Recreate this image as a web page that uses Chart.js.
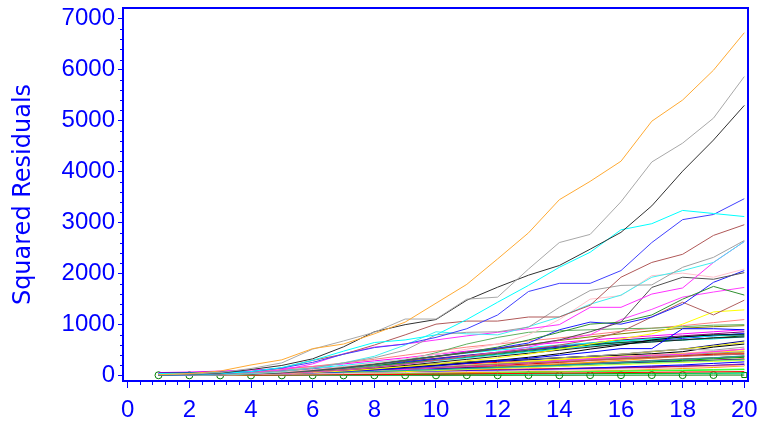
<!DOCTYPE html>
<html>
<head>
<meta charset="utf-8">
<script src="https://cdn.jsdelivr.net/npm/chart.js@4.4.1/dist/chart.umd.min.js"></script>
<style>
  html, body { margin: 0; padding: 0; background: #ffffff; }
  #wrap { width: 759px; height: 424px; }
</style>
</head>
<body>
<div id="wrap"><canvas id="c" width="759" height="424"></canvas></div>
<script>
// Time index shared by every subject
const steps = [1, 2, 3, 4, 5, 6, 7, 8, 9, 10, 11, 12, 13, 14, 15, 16, 17, 18, 19, 20];

// Axis tick labels
const xTickValues = [0, 2, 4, 6, 8, 10, 12, 14, 16, 18, 20];
const yTickValues = [0, 1000, 2000, 3000, 4000, 5000, 6000, 7000];

// Cumulative squared residuals, one array per subject
const subjOrange   = [20, 40, 90, 210, 310, 530, 620, 820, 1050, 1420, 1790, 2290, 2800, 3450, 3810, 4205, 4990, 5405, 5990, 6725];
const subjGray     = [15, 30, 60, 140, 250, 520, 680, 850, 1110, 1110, 1500, 1540, 2090, 2610, 2770, 3410, 4190, 4560, 5050, 5865];
const subjBlack    = [10, 25, 50, 120, 200, 330, 565, 860, 1000, 1100, 1480, 1735, 1970, 2160, 2480, 2810, 3330, 4010, 4620, 5300];
const subjCyan     = [10, 20, 40, 80, 160, 300, 480, 650, 700, 800, 1100, 1440, 1770, 2125, 2420, 2860, 2980, 3240, 3180, 3120];
const subjBlue     = [5, 15, 40, 80, 150, 260, 420, 550, 620, 750, 920, 1190, 1650, 1810, 1810, 2060, 2610, 3060, 3160, 3470];
const subjBrown    = [5, 15, 30, 80, 150, 300, 420, 600, 800, 1010, 1070, 1070, 1150, 1150, 1380, 1930, 2220, 2380, 2750, 2960];
const subjGray2    = [5, 10, 20, 50, 90, 150, 250, 350, 500, 800, 850, 860, 950, 1340, 1670, 1770, 1780, 2125, 2320, 2650];
const subjCyan2    = [5, 10, 20, 40, 80, 150, 250, 380, 600, 860, 820, 800, 960, 1150, 1400, 1580, 1930, 2060, 2220, 2630];
const subjMagenta  = [10, 20, 35, 60, 110, 230, 430, 560, 620, 700, 780, 850, 920, 1000, 1340, 1340, 1600, 1720, 2220, 2630];
const subjPink     = [5, 10, 20, 40, 70, 120, 180, 250, 330, 420, 520, 620, 800, 1100, 1500, 1570, 1960, 2010, 1930, 2090];
const subjDkGray   = [5, 10, 20, 40, 60, 100, 150, 220, 300, 380, 450, 520, 600, 700, 860, 1050, 1730, 1930, 1890, 2020];
const subjGreen    = [3, 8, 15, 30, 60, 100, 160, 230, 300, 380, 460, 560, 700, 850, 1010, 1050, 1190, 1500, 1750, 1580];
const subjBlue2    = [5, 10, 20, 35, 60, 100, 150, 220, 300, 380, 460, 540, 640, 900, 1050, 1010, 1150, 1400, 1830, 2060];
const subjBrown2   = [5, 10, 20, 30, 50, 80, 120, 170, 230, 300, 380, 450, 520, 600, 700, 860, 1150, 1440, 1190, 1480];
const subjMagenta2 = [3, 6, 12, 25, 40, 70, 110, 160, 220, 300, 380, 460, 560, 700, 800, 1100, 1300, 1540, 1640, 1730];
const subjYellow   = [2, 5, 10, 20, 35, 60, 90, 130, 180, 230, 290, 350, 420, 520, 620, 720, 820, 1010, 1250, 1290];
const subjLtGreen  = [3, 6, 12, 25, 45, 80, 130, 200, 300, 450, 620, 750, 850, 880, 900, 920, 930, 960, 990, 1000];
const subjBlue3    = [4, 8, 14, 22, 35, 55, 80, 110, 150, 190, 240, 290, 340, 400, 460, 530, 530, 920, 920, 900];
const subjBlack2   = [6, 12, 20, 30, 45, 65, 90, 120, 160, 200, 250, 300, 360, 430, 520, 600, 700, 760, 800, 800];
const subjRose     = [10, 20, 40, 70, 120, 180, 250, 320, 400, 480, 560, 620, 680, 740, 800, 870, 930, 980, 1040, 1100];
const subjOlive    = [5, 10, 20, 40, 70, 110, 160, 220, 290, 370, 450, 530, 610, 690, 760, 820, 880, 930, 960, 980];

const subjRed      = [30, 40, 45, 60, 80, 100, 120, 150, 170, 200, 230, 260, 280, 300, 330, 360, 400, 430, 470, 520];
const subjLime     = [10, 15, 20, 25, 30, 35, 40, 45, 50, 55, 60, 70, 75, 80, 85, 90, 95, 100, 110, 120];
const subjNavy     = [20, 30, 40, 55, 70, 90, 110, 140, 170, 210, 250, 280, 310, 350, 380, 420, 470, 520, 600, 680];
const subjTeal     = [15, 20, 30, 40, 50, 60, 80, 100, 120, 140, 160, 180, 200, 220, 240, 260, 290, 320, 350, 380];
const subjPurple   = [40, 50, 60, 80, 100, 130, 170, 220, 280, 340, 400, 460, 520, 580, 640, 700, 740, 780, 820, 860];
const subjYellow2  = [5, 10, 20, 30, 45, 60, 80, 110, 130, 160, 200, 240, 280, 320, 360, 420, 470, 520, 580, 650];
const subjRed2     = [10, 20, 25, 30, 40, 50, 60, 70, 90, 110, 130, 150, 170, 190, 210, 230, 250, 280, 300, 330];
const subjGreen2   = [20, 30, 40, 60, 80, 110, 150, 200, 260, 320, 380, 440, 500, 560, 620, 680, 720, 760, 790, 820];
const subjPink2    = [50, 60, 70, 80, 100, 110, 130, 150, 170, 190, 210, 240, 260, 290, 320, 360, 400, 440, 480, 520];
const subjBlue4    = [5, 10, 15, 20, 25, 35, 45, 55, 65, 75, 90, 100, 110, 120, 130, 150, 170, 190, 200, 220];
const subjOrange2  = [10, 15, 20, 25, 30, 35, 40, 45, 50, 55, 60, 65, 70, 80, 90, 100, 120, 140, 160, 190];
const subjCyan3    = [2, 4, 6, 8, 10, 12, 15, 18, 20, 22, 25, 28, 30, 32, 35, 38, 40, 42, 45, 48];
const subjBlack3   = [15, 25, 40, 60, 80, 100, 130, 160, 190, 230, 270, 300, 320, 350, 380, 400, 430, 470, 560, 620];
const subjGray3    = [25, 35, 45, 55, 70, 90, 120, 150, 180, 220, 260, 300, 330, 350, 380, 420, 480, 520, 500, 560];
const subjMagenta3 = [60, 70, 90, 110, 140, 180, 230, 290, 350, 420, 480, 540, 600, 650, 700, 740, 780, 820, 860, 900];
const subjBrown3   = [20, 30, 40, 50, 60, 70, 90, 110, 130, 150, 170, 190, 210, 230, 250, 270, 300, 330, 350, 380];
const subjYellow3  = [5, 10, 20, 30, 40, 60, 80, 100, 130, 160, 200, 240, 280, 320, 350, 380, 400, 430, 460, 490];
const subjGreen3   = [10, 15, 20, 30, 40, 50, 60, 75, 90, 110, 130, 150, 170, 190, 210, 240, 270, 300, 330, 360];
const subjRed3     = [40, 45, 50, 55, 60, 65, 70, 80, 90, 100, 110, 120, 130, 140, 150, 160, 170, 180, 190, 200];
const subjBlue5    = [30, 40, 60, 80, 100, 130, 170, 220, 270, 330, 390, 450, 510, 560, 610, 650, 690, 730, 780, 830];
const subjLime2    = [5, 8, 10, 12, 15, 18, 20, 25, 30, 35, 40, 50, 60, 70, 80, 90, 100, 110, 120, 130];
const subjDkGreen  = [20, 30, 40, 50, 70, 100, 140, 190, 240, 300, 360, 420, 480, 540, 600, 650, 680, 700, 740, 780];
const subjPink3    = [30, 35, 45, 55, 70, 80, 100, 120, 140, 160, 180, 200, 220, 250, 280, 310, 340, 380, 420, 450];
const subjCyan4    = [10, 20, 30, 40, 60, 90, 130, 180, 230, 290, 350, 410, 470, 520, 580, 620, 660, 700, 720, 760];
const subjOrange3  = [5, 10, 15, 20, 30, 40, 55, 70, 90, 110, 140, 170, 200, 230, 260, 300, 340, 380, 420, 460];
const subjPurple2  = [15, 20, 25, 30, 40, 50, 60, 70, 80, 90, 100, 110, 120, 130, 140, 150, 160, 180, 200, 230];
const subjGray4    = [10, 15, 25, 35, 50, 70, 90, 110, 140, 170, 200, 230, 260, 290, 320, 350, 380, 410, 440, 470];
const subjRed4     = [5, 10, 20, 35, 50, 70, 90, 110, 130, 150, 170, 200, 230, 260, 300, 330, 360, 390, 420, 430];
const subjNavy2    = [50, 60, 70, 80, 90, 100, 110, 120, 130, 140, 150, 160, 180, 200, 220, 240, 260, 280, 300, 320];
const subjGreen4   = [8, 10, 12, 14, 16, 18, 20, 22, 25, 28, 30, 32, 35, 38, 40, 42, 45, 48, 50, 55];
const subjMagenta4 = [20, 25, 30, 40, 50, 60, 80, 100, 120, 150, 180, 210, 250, 290, 330, 370, 400, 420, 470, 520];
const subjBrown4   = [30, 40, 50, 60, 70, 80, 100, 120, 140, 160, 190, 220, 250, 270, 300, 330, 350, 380, 400, 420];
const subjBlue6    = [10, 15, 20, 25, 30, 40, 50, 60, 70, 80, 90, 100, 110, 130, 150, 170, 190, 210, 240, 270];
const subjYellow4  = [20, 25, 30, 35, 40, 50, 60, 70, 80, 100, 120, 140, 160, 180, 200, 220, 240, 260, 280, 300];
const subjRed5     = [3, 5, 8, 10, 12, 15, 18, 20, 25, 30, 35, 40, 45, 50, 55, 60, 65, 70, 75, 80];
const subjBlack4   = [10, 20, 30, 45, 60, 80, 110, 150, 200, 260, 320, 380, 440, 500, 560, 620, 660, 700, 740, 760];
const subjLime3    = [30, 35, 40, 50, 60, 70, 80, 90, 100, 110, 130, 150, 170, 190, 210, 230, 250, 270, 290, 310];
const subjTeal2    = [5, 10, 15, 25, 35, 50, 65, 80, 100, 120, 140, 160, 180, 200, 230, 260, 290, 320, 350, 390];
const subjPink4    = [10, 15, 20, 25, 30, 35, 40, 50, 60, 70, 80, 90, 100, 110, 120, 130, 140, 160, 180, 200];
const subjCyan5    = [40, 50, 60, 80, 110, 150, 200, 260, 320, 380, 440, 500, 550, 600, 640, 680, 720, 750, 780, 800];
// Subject plotted with open symbols
const subjMarked   = [8, 6, 5, 4, 5, 6, 5, 6, 7, 6, 8, 7, 9, 8, 10, 9, 11, 10, 12, 12];

const AXIS_BLUE = '#0000FF';

const series = [
  [subjMarked, '#008000'],
  [subjRed, '#FF0000'], [subjLime, '#00FF00'], [subjNavy, '#000080'], [subjTeal, '#008080'],
  [subjPurple, '#800080'], [subjYellow2, '#E8E800'], [subjRed2, '#FF2020'], [subjGreen2, '#008000'],
  [subjPink2, '#FFB6C1'], [subjBlue4, '#0000FF'], [subjOrange2, '#FFA500'], [subjCyan3, '#00FFFF'],
  [subjBlack3, '#000000'], [subjGray3, '#A0A0A0'], [subjMagenta3, '#FF00FF'], [subjBrown3, '#A05050'],
  [subjYellow3, '#FFFF00'], [subjGreen3, '#00A000'], [subjRed3, '#FF0000'], [subjBlue5, '#2020FF'],
  [subjLime2, '#40FF40'], [subjDkGreen, '#006400'], [subjPink3, '#FFC0CB'], [subjCyan4, '#00E0E0'],
  [subjOrange3, '#FFA500'], [subjPurple2, '#9020A0'], [subjGray4, '#909090'], [subjRed4, '#E00000'],
  [subjNavy2, '#000090'], [subjGreen4, '#00C000'], [subjMagenta4, '#FF30FF'], [subjBrown4, '#B06060'],
  [subjBlue6, '#0000FF'], [subjYellow4, '#FFFF00'], [subjRed5, '#FF0000'], [subjBlack4, '#202020'],
  [subjLime3, '#80FF80'], [subjTeal2, '#20A0A0'], [subjPink4, '#FFC0CB'], [subjCyan5, '#00FFFF'],
  [subjRose, '#FF8080'], [subjOlive, '#808000'],
  [subjBlack2, '#000000'], [subjBlue3, '#0000FF'], [subjLtGreen, '#60B060'], [subjYellow, '#FFFF00'],
  [subjMagenta2, '#FF40FF'], [subjBrown2, '#B06060'], [subjBlue2, '#2020FF'], [subjGreen, '#309030'],
  [subjDkGray, '#505050'], [subjPink, '#FFC0CB'], [subjMagenta, '#FF30FF'], [subjCyan2, '#40F0F0'],
  [subjGray2, '#A0A0A0'], [subjBrown, '#B05858'], [subjBlue, '#4040FF'], [subjCyan, '#00FFFF'],
  [subjBlack, '#303030'], [subjGray, '#A8A8A8'], [subjOrange, '#FFAA33']
];

const datasets = series.map(([vals, color], i) => ({
  data: steps.map((s, k) => ({ x: s, y: vals[k] })),
  borderColor: color,
  backgroundColor: 'rgba(0,0,0,0)',
  borderWidth: 1,
  tension: 0,
  pointRadius: i === 0 ? 3.5 : 0,
  pointStyle: i === 0 ? (ctx => ctx.dataIndex === steps.length - 1 ? 'rect' : 'circle') : 'circle',
  pointBorderColor: color,
  pointBackgroundColor: 'rgba(0,0,0,0)',
  pointBorderWidth: 1,
  order: series.length - i
}));

// Minor tick positions between the labelled ticks
const xMinorTicks = [];
for (let v = 0.4; v < 20; v += 0.4) {
  const r = Math.round(v * 10) / 10;
  if (Math.abs(r / 2 - Math.round(r / 2)) > 1e-6) xMinorTicks.push(r);
}
const yMinorTicks = [];
for (let v = 200; v < 7200; v += 200) if (v % 1000 !== 0) yMinorTicks.push(v);

const frameAndMinor = {
  id: 'frameAndMinor',
  afterDraw(chart) {
    const { ctx, chartArea: a, scales: { x, y } } = chart;
    ctx.save();
    ctx.strokeStyle = AXIS_BLUE;
    ctx.lineWidth = 1;
    ctx.beginPath();
    yMinorTicks.forEach(v => {
      const p = Math.round(y.getPixelForValue(v)) + 0.5;
      ctx.moveTo(a.left - 3, p); ctx.lineTo(a.left, p);
    });
    xMinorTicks.forEach(v => {
      const p = Math.round(x.getPixelForValue(v)) + 0.5;
      ctx.moveTo(p, a.bottom); ctx.lineTo(p, a.bottom + 4);
    });
    ctx.stroke();
    ctx.lineWidth = 2;
    ctx.strokeRect(a.left, a.top, a.right - a.left, a.bottom - a.top);
    ctx.restore();
  }
};

new Chart(document.getElementById('c'), {
  type: 'line',
  data: { datasets },
  options: {
    responsive: false,
    devicePixelRatio: 1,
    animation: false,
    layout: { padding: { top: 8, right: 11, left: 0, bottom: 0 } },
    plugins: { legend: { display: false }, tooltip: { enabled: false } },
    scales: {
      x: {
        type: 'linear',
        min: -0.152,
        max: 20.12,
        afterBuildTicks: s => { s.ticks = xTickValues.map(v => ({ value: v })); },
        afterFit: s => { s.height = 43; s.paddingLeft = 0; s.paddingRight = 0; },
        border: { display: false },
        grid: { display: true, drawOnChartArea: false, drawTicks: true, tickLength: 7, color: AXIS_BLUE, lineWidth: 1 },
        ticks: {
          color: AXIS_BLUE, padding: 8, maxRotation: 0, autoSkip: false,
          callback: v => String(v),
          font: { family: '"Liberation Sans", Arial, sans-serif', size: 24 }
        }
      },
      y: {
        type: 'linear',
        min: -105,
        max: 7210,
        afterBuildTicks: s => { s.ticks = yTickValues.map(v => ({ value: v })); },
        afterFit: s => { s.width = 123; s.paddingTop = 0; s.paddingBottom = 0; },
        border: { display: false },
        grid: { display: true, drawOnChartArea: false, drawTicks: true, tickLength: 5, color: AXIS_BLUE, lineWidth: 1 },
        ticks: {
          color: AXIS_BLUE, padding: 3, autoSkip: false,
          callback: v => String(v),
          font: { family: '"Liberation Sans", Arial, sans-serif', size: 24 }
        },
        title: {
          display: true,
          text: 'Squared Residuals',
          color: AXIS_BLUE,
          padding: { top: 9, bottom: 0 },
          font: { family: '"DejaVu Sans", sans-serif', size: 24 }
        }
      }
    }
  },
  plugins: [frameAndMinor]
});
</script>
</body>
</html>
